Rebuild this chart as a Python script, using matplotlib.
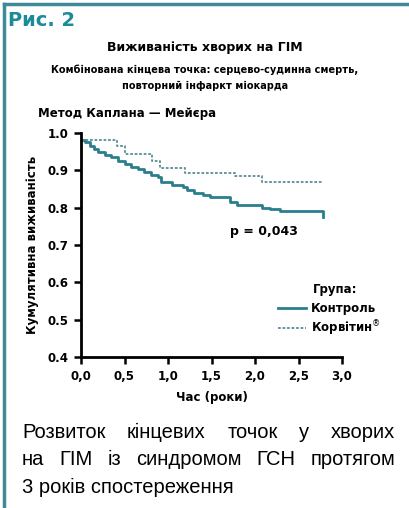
import matplotlib
matplotlib.use("Agg")
import matplotlib.pyplot as plt
from matplotlib.lines import Line2D

# Kaplan-Meier steps (years, survival)
control_t = [0.00, 0.05, 0.10, 0.15, 0.20, 0.28, 0.35, 0.42, 0.50, 0.57, 0.65, 0.72, 0.80,
             0.88, 0.92, 1.05, 1.17, 1.22, 1.30, 1.40, 1.48, 1.71, 1.79, 2.08, 2.17, 2.29, 2.77, 2.78]
control_s = [0.982, 0.975, 0.965, 0.958, 0.950, 0.942, 0.935, 0.925, 0.918, 0.910, 0.903, 0.895, 0.888,
             0.882, 0.868, 0.862, 0.855, 0.848, 0.840, 0.834, 0.829, 0.815, 0.807, 0.800, 0.796, 0.790, 0.790, 0.775]

korvitin_t = [0.00, 0.41, 0.51, 0.82, 0.91, 1.20, 1.77, 2.08, 2.77]
korvitin_s = [0.981, 0.965, 0.944, 0.924, 0.907, 0.894, 0.885, 0.870, 0.870]

x_ticks = [0.0, 0.5, 1.0, 1.5, 2.0, 2.5, 3.0]
x_labels = ["0,0", "0,5", "1,0", "1,5", "2,0", "2,5", "3,0"]
y_ticks = [0.4, 0.5, 0.6, 0.7, 0.8, 0.9, 1.0]
y_labels = ["0.4", "0.5", "0.6", "0.7", "0.8", "0.9", "1.0"]

teal = "#1b8a99"
ctrl_color = "#2a7f8c"
korv_color = "#5a8d99"
chart_font = ["Liberation Sans Narrow", "DejaVu Sans"]
caption_font = ["Liberation Sans", "DejaVu Sans"]

W, H = 409, 508
fig = plt.figure(figsize=(W / 100, H / 100), dpi=100)
fig.patch.set_facecolor("white")

# teal frame on top and left
fig.add_artist(Line2D([4 / W, 1], [1 - 4 / H, 1 - 4 / H], color="#3f8a96", lw=2.5))
fig.add_artist(Line2D([4 / W, 4 / W], [0, 1 - 4 / H], color="#3f8a96", lw=2.5))

ax = fig.add_axes([81 / W, 1 - 357 / H, 261 / W, 224 / H])

ax.step(control_t, control_s, where="post", color=ctrl_color, lw=2.0, label="Контроль")
ax.step(korvitin_t, korvitin_s, where="post", color=korv_color, lw=1.3,
        linestyle=(0, (1.5, 1)), label="Корвітин$^{\\circledR}$")

ax.set_xlim(0, 3.0)
ax.set_ylim(0.4, 1.0)
ax.set_xticks(x_ticks)
ax.set_xticklabels(x_labels)
ax.set_yticks(y_ticks)
ax.set_yticklabels(y_labels)
for lab in ax.get_xticklabels() + ax.get_yticklabels():
    lab.set_family(chart_font)
    lab.set_fontweight("bold")
    lab.set_fontsize(8.5)
ax.tick_params(direction="out", length=5, width=1.8, pad=4)
for s in ["top", "right"]:
    ax.spines[s].set_visible(False)
for s in ["left", "bottom"]:
    ax.spines[s].set_linewidth(2.0)

ax.set_xlabel("Час (роки)", family=chart_font, fontweight="bold", fontsize=8.5, labelpad=6)
ax.set_ylabel("Кумулятивна виживаність", family=chart_font, fontweight="bold", fontsize=8.5, labelpad=6)

ax.text(2.1, 0.735, "p = 0,043", family=chart_font, fontweight="bold", fontsize=9, ha="center", va="center")

leg = ax.legend(loc="lower left", bbox_to_anchor=(0.735, 0.065), frameon=False,
                prop={"family": chart_font, "weight": "bold", "size": 8.5},
                handlelength=2.4, handletextpad=0.45, labelspacing=0.3, borderaxespad=0)
fig.text(313 / W, 1 - 289 / H, "Група:", family=chart_font, fontweight="bold", fontsize=8.5,
         ha="left", va="center")

fig.text(8 / W, 1 - 20 / H, "Рис. 2", color=teal, fontsize=14, fontweight="bold",
         family=["DejaVu Sans"], ha="left", va="center")
fig.text(205 / W, 1 - 48 / H, "Виживаність хворих на ГІМ", family=chart_font,
         fontweight="bold", fontsize=9, ha="center", va="center")
fig.text(205 / W, 1 - 70 / H, "Комбінована кінцева точка: серцево-судинна смерть,", family=chart_font,
         fontweight="bold", fontsize=7, ha="center", va="center")
fig.text(205 / W, 1 - 86 / H, "повторний інфаркт міокарда", family=chart_font,
         fontweight="bold", fontsize=7, ha="center", va="center")
fig.text(38 / W, 1 - 113 / H, "Метод Каплана — Мейєра", family=chart_font,
         fontweight="bold", fontsize=8.5, ha="left", va="center")

# caption, first two lines justified
caption = ["Розвиток кінцевих точок у хворих",
           "на ГІМ із синдромом ГСН протягом",
           "3 років спостереження"]
cap_base = [438, 465, 493]
cap_size = 14.5
left_px, right_px = 22, 395
renderer = fig.canvas.get_renderer()
for i, line in enumerate(caption):
    y = 1 - cap_base[i] / H
    if i == len(caption) - 1:
        fig.text(left_px / W, y, line, family=caption_font, fontsize=cap_size, ha="left", va="baseline")
        continue
    words = line.split()
    texts = [fig.text(0, y, w, family=caption_font, fontsize=cap_size, ha="left", va="baseline")
             for w in words]
    widths = [t.get_window_extent(renderer).width for t in texts]
    gap = (right_px - left_px - sum(widths)) / (len(words) - 1)
    x = left_px
    for t, wd in zip(texts, widths):
        t.set_x(x / W)
        x += wd + gap

fig.savefig("out.png", dpi=100)
